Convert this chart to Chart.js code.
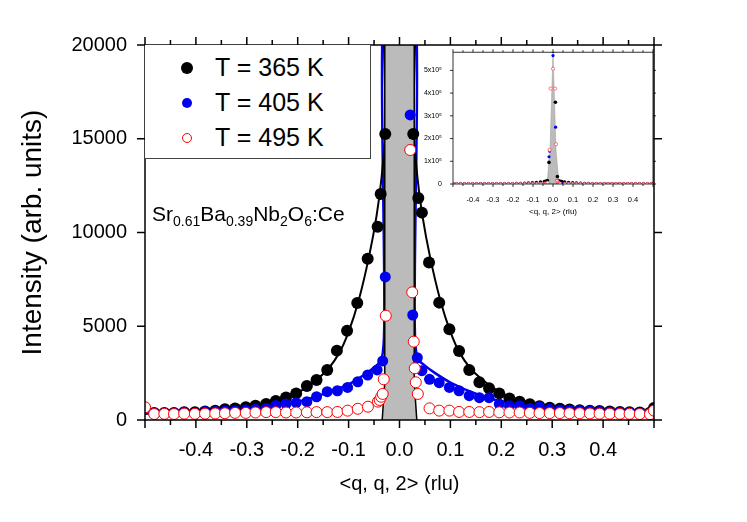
<!DOCTYPE html>
<html><head><meta charset="utf-8">
<script src="https://cdn.jsdelivr.net/npm/chart.js@4/dist/chart.umd.min.js"></script>
<style>
body{margin:0;background:#fff;font-family:"Liberation Sans",Arial,sans-serif}
#wrap{position:relative;width:747px;height:522px}
#main{position:absolute;left:0;top:0}
#inset{position:absolute;left:400px;top:45px}
.leg{position:absolute;left:145px;top:45px;width:226px;height:114px;border:1px solid #444;border-left:none;border-top:none;background:#fff;box-sizing:border-box}
.row{position:absolute;left:0;font-size:25px;color:#000}
.dot{position:absolute;width:12px;height:12px;border-radius:50%;box-sizing:border-box}
.formula{position:absolute;left:152px;top:202px;font-size:21px}
</style></head><body>
<div id="wrap">
<canvas id="main" width="747" height="522"></canvas>
<div class="leg">
 <div class="dot" style="left:36px;top:17px;background:#000"></div><div class="row" style="left:70px;top:8px">T = 365 K</div>
 <div class="dot" style="left:37px;top:53px;width:10px;height:10px;background:#0000ee"></div><div class="row" style="left:70px;top:43px">T = 405 K</div>
 <div class="dot" style="left:37px;top:88px;width:10px;height:10px;border:1px solid #f00;background:#fff"></div><div class="row" style="left:70px;top:78px">T = 495 K</div>
</div>
<div class="formula">Sr<sub style="font-size:14px">0.61</sub>Ba<sub style="font-size:14px">0.39</sub>Nb<sub style="font-size:14px">2</sub>O<sub style="font-size:14px">6</sub>:Ce</div>
<canvas id="inset" width="260" height="176"></canvas>
</div>
<script>
const blackX=[-0.5,-0.482,-0.462,-0.443,-0.423,-0.402,-0.382,-0.362,-0.343,-0.323,-0.302,-0.283,-0.262,-0.243,-0.223,-0.203,-0.182,-0.163,-0.142,-0.123,-0.103,-0.083,-0.0625,-0.043,-0.037,-0.028,
0.027,0.037,0.044,0.058,0.078,0.098,0.117,0.137,0.157,0.176,0.196,0.216,0.236,0.256,0.275,0.295,0.315,0.334,0.354,0.374,0.393,0.413,0.433,0.452,0.472,0.492,0.5];
const blackY=[620,370,370,370,410,410,450,500,570,620,680,760,850,1020,1200,1420,1810,2130,2670,3700,4760,6240,8600,10310,12050,15250,
15250,11840,11060,8400,6260,4840,3680,2670,2010,1690,1420,1150,980,840,730,660,600,560,520,500,480,450,430,420,400,390,640];
const blueX=[-0.5,-0.482,-0.462,-0.443,-0.423,-0.402,-0.382,-0.362,-0.343,-0.323,-0.302,-0.283,-0.262,-0.243,-0.223,-0.203,-0.182,-0.163,-0.142,-0.122,-0.102,-0.082,-0.0625,-0.044,-0.033,-0.028,
0.021,0.026,0.035,0.044,0.059,0.078,0.098,0.117,0.137,0.157,0.176,0.196,0.216,0.236,0.256,0.275,0.295,0.315,0.334,0.354,0.374,0.393,0.413,0.433,0.452,0.472,0.492,0.5];
const blueY=[570,370,370,370,410,370,450,450,480,500,530,570,620,780,850,925,980,1240,1510,1560,1740,2040,2400,2670,3150,7630,
16270,5600,3320,2630,2170,1990,1740,1560,1300,1190,1190,850,760,760,620,690,570,540,520,500,480,450,430,420,400,380,360,550];
const redX=[-0.5,-0.482,-0.462,-0.443,-0.423,-0.402,-0.382,-0.362,-0.343,-0.323,-0.302,-0.283,-0.262,-0.243,-0.223,-0.203,-0.182,-0.163,-0.142,-0.122,-0.102,-0.082,-0.062,-0.0425,-0.039,-0.036,-0.033,-0.031,-0.027,
0.021,0.025,0.028,0.030,0.032,0.036,0.059,0.078,0.098,0.117,0.137,0.157,0.176,0.196,0.216,0.236,0.256,0.275,0.295,0.315,0.334,0.354,0.374,0.393,0.413,0.433,0.452,0.472,0.492,0.5];
const redY=[680,320,330,320,340,330,340,350,360,380,380,400,420,420,400,400,410,420,420,430,500,600,710,980,1070,1240,1390,2170,5560,
14400,6810,4180,2760,2010,1390,620,500,500,430,430,420,430,410,400,400,380,370,370,370,360,360,350,340,340,330,330,320,310,500];
const blackFitX=[-0.5,-0.4,-0.3,-0.25,-0.2,-0.15,-0.12,-0.1,-0.08,-0.06,-0.045,-0.035,-0.028,-0.025,0.025,0.028,0.035,0.045,0.06,0.08,0.1,0.12,0.15,0.2,0.25,0.3,0.4,0.5];
const blackFitY=[330,400,680,950,1450,2450,3500,4700,6400,8700,10900,13000,15500,25000,25000,15500,13000,10900,8700,6400,4700,3500,2450,1450,950,680,400,330];
const blueFitX=[-0.5,-0.4,-0.3,-0.2,-0.15,-0.1,-0.07,-0.05,-0.035,-0.03,-0.027,0.027,0.03,0.035,0.05,0.07,0.1,0.15,0.2,0.3,0.4,0.5];
const blueFitY=[380,450,560,980,1380,1900,2400,2800,3250,5000,25000,25000,5000,3300,2900,2500,2000,1400,1000,600,470,400];
const grayX=[-0.034,-0.029,-0.026,0.026,0.029,0.034];
const grayY=[0,2000,600000,600000,2000,0];
const insetGrayX=[-0.03,-0.015,0,0.015,0.03];
const insetGrayY=[0,150000,580000,150000,0];
const xTickLabels=['-0.4','-0.3','-0.2','-0.1','0.0','0.1','0.2','0.3','0.4'];
const yTicks=[0,5000,10000,15000,20000];
const peakBlackX=[0,0.012,-0.02,0.022], peakBlackY=[585000,360000,95000,33000];
const peakBlueX=[0,0.013,-0.02,-0.017], peakBlueY=[565000,250000,120000,145000];
const peakRedX=[0,-0.012,0.01,-0.017,0.015], peakRedY=[507000,420000,420000,150000,175000];
const insetTicks=[0,100000,200000,300000,400000,500000];

const pts=(xs,ys)=>xs.map((x,i)=>({x,y:ys[i]}));
const F='"Liberation Sans", Arial, sans-serif';

function frameTicks(opts){return {id:'frame',afterDraw(c){
 const {ctx,chartArea:a,scales:{x,y}}=c;ctx.save();ctx.strokeStyle='#000';ctx.lineWidth=opts.lw;
 ctx.strokeRect(a.left,a.top,a.right-a.left,a.bottom-a.top);
 for(let v=-0.5;v<=0.5001;v+=0.05){const p=x.getPixelForValue(v);const maj=Math.abs(Math.round(v*10)-v*10)<1e-6;const L=maj?opts.maj:opts.min;
  ctx.beginPath();ctx.moveTo(p,a.bottom);ctx.lineTo(p,a.bottom+L);ctx.moveTo(p,a.top);ctx.lineTo(p,a.top-L);ctx.stroke();}
 opts.yt.forEach(v=>{const p=y.getPixelForValue(v);ctx.beginPath();ctx.moveTo(a.left,p);ctx.lineTo(a.left-opts.maj,p);ctx.moveTo(a.right,p);ctx.lineTo(a.right+opts.maj,p);ctx.stroke();});
 ctx.restore();}};}

const xScale=(fs,h,ticks)=>({type:'linear',min:-0.5,max:0.5,grid:{display:false},border:{display:false},
 afterBuildTicks:s=>{s.ticks=ticks.map(t=>({value:parseFloat(t)}));},
 ticks:{font:{family:F,size:fs},color:'#000',padding:fs>12?10:3,maxRotation:0,autoSkip:false,callback:(v)=>v.toFixed(1)},
 afterFit:s=>{s.height=h;}});

new Chart(document.getElementById('main'),{type:'scatter',
 data:{datasets:[
  {data:pts(grayX,grayY),showLine:true,fill:'origin',backgroundColor:'#bbbbbb',borderColor:'#000',borderWidth:1.5,pointRadius:0,order:3},
  {data:pts(blueFitX,blueFitY),showLine:true,borderColor:'#0000ee',borderWidth:2.5,pointRadius:0,tension:0.3,order:5},
  {data:pts(blackFitX,blackFitY),showLine:true,borderColor:'#000',borderWidth:2,pointRadius:0,tension:0.3,order:4},
  {data:pts(blackX,blackY),pointRadius:6,backgroundColor:'#000',borderWidth:0,order:2},
  {data:pts(blueX,blueY),pointRadius:5.5,backgroundColor:'#0000ee',borderWidth:0,order:1},
  {data:pts(redX,redY),pointRadius:5.5,backgroundColor:'#fff',borderColor:'#ff0000',borderWidth:1,order:0},
  {data:pts(redX,redY),pointStyle:'cross',pointRadius:5.5,borderColor:'#ff0000',borderWidth:0.8,order:0}
 ]},
 options:{animation:false,responsive:false,layout:{padding:{top:45,right:93,left:12,bottom:22}},
  plugins:{legend:{display:false},tooltip:{enabled:false}},
  scales:{
   x:Object.assign(xScale(20,80,xTickLabels),{title:{display:true,text:'<q, q, 2> (rlu)',font:{family:F,size:20},color:'#000',padding:{top:10}}}),
   y:{min:0,max:20000,grid:{display:false},border:{display:false},
    afterBuildTicks:s=>{s.ticks=yTicks.map(v=>({value:v}));},
    ticks:{font:{family:F,size:20},color:'#000',padding:10,callback:v=>String(v)},
    title:{display:true,text:'Intensity (arb. units)',font:{family:F,size:28},color:'#000',padding:{bottom:4}},
    afterFit:s=>{s.width=133;}}}},
 plugins:[frameTicks({lw:1.5,maj:8,min:5,yt:yTicks})]});

new Chart(document.getElementById('inset'),{type:'scatter',
 data:{datasets:[
  {data:pts(insetGrayX,insetGrayY),showLine:true,fill:'origin',backgroundColor:'#bbbbbb',borderColor:'#999',borderWidth:0.5,pointRadius:0,order:3},
  {data:pts(blackX.concat(peakBlackX),blackY.concat(peakBlackY)),pointRadius:1.8,backgroundColor:'#000',borderWidth:0,order:2},
  {data:pts(blueX.concat(peakBlueX),blueY.concat(peakBlueY)),pointRadius:1.6,backgroundColor:'#0000ee',borderWidth:0,order:1},
  {data:pts(redX.concat(peakRedX),redY.concat(peakRedY)),pointRadius:1.6,backgroundColor:'#fff',borderColor:'#ff4040',borderWidth:0.7,order:0}
 ]},
 options:{animation:false,responsive:false,layout:{padding:{top:0,right:7,left:0,bottom:0}},
  plugins:{legend:{display:false},tooltip:{enabled:false}},
  scales:{
   x:Object.assign(xScale(7.5,37,['-0.4','-0.3','-0.2','-0.1','0.0','0.1','0.2','0.3','0.4']),{title:{display:true,text:'<q, q, 2> (rlu)',font:{family:F,size:8},color:'#000',padding:{top:4,bottom:4}}}),
   y:{min:0,max:580000,grid:{display:false},border:{display:false},
    afterBuildTicks:s=>{s.ticks=insetTicks.map(v=>({value:v}));},
    ticks:{font:{family:F,size:7},color:'#000',padding:3,callback:v=>v===0?'0':(v/100000)+'x10\u2075'},
    afterFit:s=>{s.width=53;}}}},
 plugins:[frameTicks({lw:0.8,maj:3,min:2,yt:insetTicks})]});
</script></body></html>
